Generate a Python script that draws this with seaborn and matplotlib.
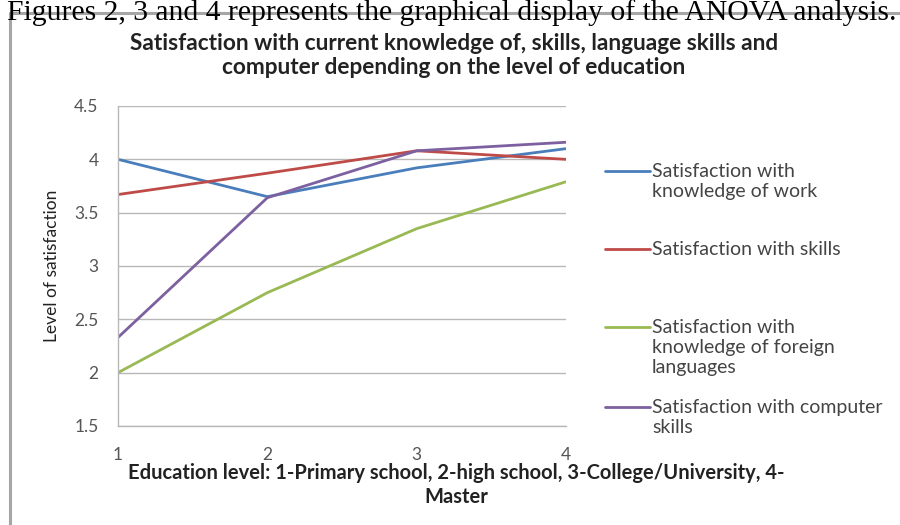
import matplotlib
matplotlib.use("Agg")
import matplotlib.pyplot as plt
import seaborn as sns
import pandas as pd
from matplotlib.lines import Line2D

# Education levels on the x axis
levels = [1, 2, 3, 4]

# Mean satisfaction per education level
knowledge_of_work = [4.00, 3.65, 3.92, 4.10]
skills = [3.67, 3.87, 4.08, 4.00]
foreign_languages = [2.00, 2.75, 3.35, 3.79]
computer_skills = [2.33, 3.64, 4.08, 4.16]

series_names = [
    "Satisfaction with\nknowledge of work",
    "Satisfaction with skills",
    "Satisfaction with\nknowledge of foreign\nlanguages",
    "Satisfaction with computer\nskills",
]
series_colors = ["#4a7ebb", "#be4b48", "#98b954", "#7d60a0"]

y_ticks = [1.5, 2, 2.5, 3, 3.5, 4, 4.5]
y_tick_labels = ["1.5", "2", "2.5", "3", "3.5", "4", "4.5"]

df = pd.DataFrame({
    "level": levels * 4,
    "value": knowledge_of_work + skills + foreign_languages + computer_skills,
    "series": sum([[n] * len(levels) for n in series_names], []),
})

sns.set_theme(style="white")
plt.rcParams["font.family"] = ["Lato", "DejaVu Sans"]

W, H = 900, 525
fig = plt.figure(figsize=(9, 5.25), dpi=100)


def fx(px):
    return px / W


def fy(py):
    return 1 - py / H


# Caption line and chart frame
fig.text(fx(7), fy(-1), "Figures 2, 3 and 4 represents the graphical display of the ANOVA analysis.",
         family="Liberation Serif", fontsize=21.3, color="black", ha="left", va="top")
frame_color = "#a6a6a6"
fig.add_artist(Line2D([fx(10), fx(10)], [0.0, fy(13)], color=frame_color, lw=2.2,
                      transform=fig.transFigure))
fig.add_artist(Line2D([fx(10), 1.0], [fy(13), fy(13)], color=frame_color, lw=2.2,
                      transform=fig.transFigure))

ax = fig.add_axes([fx(118), fy(426), fx(566) - fx(118), fy(106) - fy(426)])
sns.lineplot(data=df, x="level", y="value", hue="series", hue_order=series_names,
             palette=series_colors, linewidth=2.0, ax=ax, legend=False, sort=False)

ax.set_xlim(1, 4)
ax.set_ylim(1.5, 4.5)
ax.set_yticks(y_ticks)
ax.set_yticklabels(y_tick_labels)
ax.set_xticks(levels)
ax.set_xticklabels([str(v) for v in levels])
ax.grid(axis="y", color="#b8b8b8", lw=1.0)
ax.grid(axis="x", visible=False)
for side in ["top", "right"]:
    ax.spines[side].set_visible(False)
for side in ["left", "bottom"]:
    ax.spines[side].set_color("#b8b8b8")
    ax.spines[side].set_linewidth(1.0)
ax.tick_params(axis="both", colors="#555555", labelsize=12.5, length=0)
ax.tick_params(axis="y", pad=14)
ax.tick_params(axis="x", pad=15)

ax.set_ylabel("Level of satisfaction", fontsize=12.5, color="#222222", labelpad=10)
ax.set_xlabel("")

fig.text(fx(454), fy(33), "Satisfaction with current knowledge of, skills, language skills and\ncomputer depending on the level of education",
         ha="center", va="top", fontsize=16.3, fontweight="bold", color="#222222", linespacing=1.15)
fig.text(fx(456), fy(463), "Education level: 1-Primary school, 2-high school, 3-College/University, 4-\nMaster",
         ha="center", va="top", fontsize=14.5, fontweight="bold", color="#222222", linespacing=1.25)

# Legend: handle aligned with the first line of each label
legend_rows = [171, 249, 327, 407]
for name, color, row in zip(series_names, series_colors, legend_rows):
    fig.add_artist(Line2D([fx(605), fx(650)], [fy(row), fy(row)], color=color, lw=2.0,
                          transform=fig.transFigure))
    fig.text(fx(652), fy(row - 8), name, ha="left", va="top", fontsize=14,
             color="#444444", linespacing=1.2)

fig.savefig("out.png", dpi=100)
